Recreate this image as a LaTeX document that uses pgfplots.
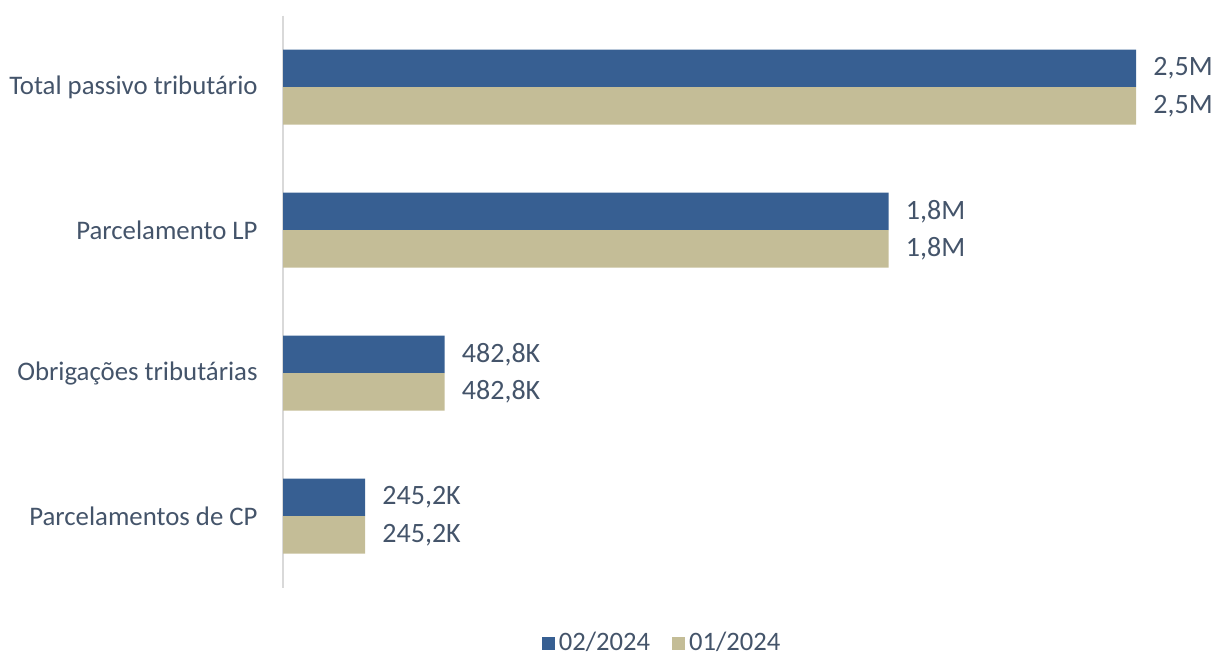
\documentclass[border=0pt]{standalone}
\usepackage{pgfplots}
\pgfplotsset{compat=1.18}
\usepackage{fontspec}
\setmainfont{Carlito}
\definecolor{cblue}{HTML}{375F92}
\definecolor{ctan}{HTML}{C4BD97}
\definecolor{ctext}{HTML}{44546A}
\definecolor{caxis}{HTML}{D9D9D9}
\begin{document}
\begin{tikzpicture}
\useasboundingbox (0,0) rectangle (609pt,327.5pt);
\begin{axis}[
  at={(141.5pt,33.75pt)}, anchor=south west,
  scale only axis, width=434.9pt, height=286pt,
  xbar, xmin=0, xmax=2.6, ymin=-0.5, ymax=3.5, y dir=reverse,
  bar width=18.75pt,
  axis lines*=left,
  x axis line style={draw=none},
  y axis line style={draw=caxis, line width=1pt},
  xtick=\empty,
  ytick={0,1,2,3},
  yticklabels={Total passivo tributário, Parcelamento LP, Obrigações tributárias, Parcelamentos de CP},
  major tick length=0pt,
  yticklabel style={font=\fontsize{13.4pt}{15pt}\selectfont, text=ctext, inner sep=0pt, xshift=-12.5pt},
  nodes near coords,
  point meta=explicit symbolic,
  every node near coord/.append style={font=\fontsize{14pt}{16pt}\selectfont, text=ctext, anchor=west, inner sep=0pt, xshift=8.5pt},
  legend columns=2,
  legend style={draw=none, at={(0.437,-0.097)}, anchor=center, font=\fontsize{13.3pt}{15pt}\selectfont, text=ctext, /tikz/every even column/.append style={column sep=9pt}},
  legend image code/.code={\fill[#1] (0pt,-3.3pt) rectangle (6.5pt,3.2pt);},
]
\addplot[fill=cblue, draw=none, bar shift=9.375pt] table[x=v, y=c, meta=lab] {
c v lab
0 2.55 2,5M
1 1.81 1,8M
2 0.4828 482,8K
3 0.2452 245,2K
};
\addplot[fill=ctan, draw=none, bar shift=-9.375pt] table[x=v, y=c, meta=lab] {
c v lab
0 2.55 2,5M
1 1.81 1,8M
2 0.4828 482,8K
3 0.2452 245,2K
};
\legend{02/2024, 01/2024}
\end{axis}
\end{tikzpicture}
\end{document}
